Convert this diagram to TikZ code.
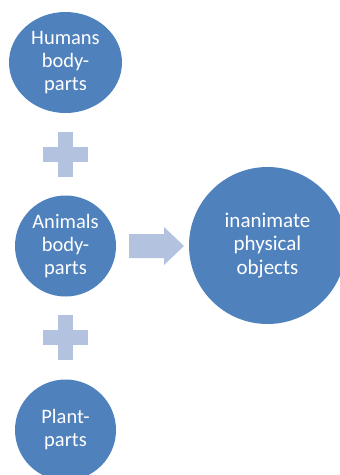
\documentclass[tikz,border=0pt]{standalone}
\usepackage{fontspec}
\setmainfont{Carlito}
\usetikzlibrary{positioning, shapes.geometric}
\definecolor{partblue}{HTML}{4F81BD}
\definecolor{pluslight}{HTML}{B3C3DF}

\begin{document}
\begin{tikzpicture}[x=1pt, y=-1pt,
    part/.style={ellipse, fill=partblue, text=white, align=center, inner sep=0pt,
      font=\fontsize{20.5}{23}\selectfont},
    plusbar/.style={fill=pluslight}]
    \useasboundingbox (0,0) rectangle (340,475);
    \node[part, minimum width=113pt, minimum height=101pt] (humans) at (65.5,62.5) {Humans\\body-\\parts};
    \node[part, minimum size=101pt] (animals) at (65.5,246) {Animals\\body-\\parts};
    \node[part, minimum size=101pt] (plants) at (65.5,430) {Plant-\\parts};
    \node[part, minimum size=157pt, font=\fontsize{21}{23.5}\selectfont] (objects) at (267.5,245.5) {inanimate\\physical\\objects};
    % plus signs
    \foreach \y in {154.5,337.5}{
      \fill[plusbar] (58,\y-22.5) rectangle (73,\y+22.5);
      \fill[plusbar] (43,\y-7.5) rectangle (88,\y+7.5);
    }
    % arrow
    \fill[plusbar] (129,234) -- (164,234) -- (164,227) -- (184,246)
      -- (164,265) -- (164,258) -- (129,258) -- cycle;
\end{tikzpicture}
\end{document}
